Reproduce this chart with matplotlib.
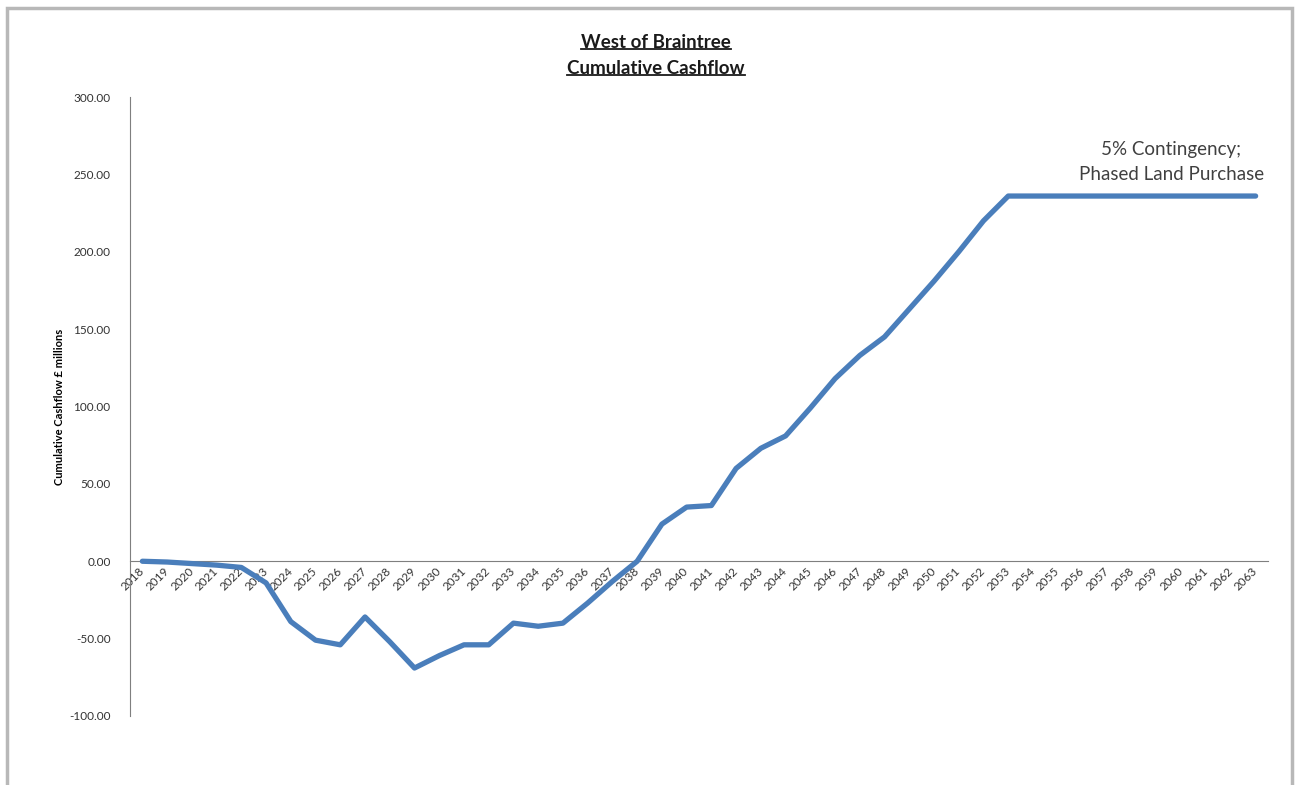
import matplotlib.pyplot as plt
from matplotlib.patches import Rectangle
from matplotlib.lines import Line2D

plt.rcParams['font.family'] = ['Lato', 'DejaVu Sans']

# data
years = [str(y) for y in range(2018, 2064)]
cashflow = [0, -0.5, -1.5, -2.5, -4, -14, -39, -51, -54, -36,
            -52, -69, -61, -54, -54, -40, -42, -40, -27, -13,
            0, 24, 35, 36, 60, 73, 81, 99, 118, 133,
            145, 163, 181, 200, 220, 236, 236, 236, 236, 236,
            236, 236, 236, 236, 236, 236]
yticks = [-100, -50, 0, 50, 100, 150, 200, 250, 300]

title_lines = ['West of Braintree', 'Cumulative Cashflow']
note = '5% Contingency;\nPhased Land Purchase'

fig = plt.figure(figsize=(12.98, 7.85), dpi=100)

# outer frame of the pasted chart
fig.patches.append(Rectangle((7 / 1298, -0.05), 1285 / 1298, 1 - 8 / 785 + 0.05,
                             transform=fig.transFigure, fill=False,
                             edgecolor='#b8b8b8', linewidth=2.5))

ax = fig.add_axes([130 / 1298, 1 - 716 / 785, 1138 / 1298, 619 / 785])
xs = list(range(len(years)))
ax.plot(xs, cashflow, color='#4a7ebb', linewidth=3.8, solid_capstyle='round',
        solid_joinstyle='round', zorder=3)

for s in ['top', 'right']:
    ax.spines[s].set_visible(False)
ax.spines['bottom'].set_position(('data', 0))
ax.spines['bottom'].set_color('#7f7f7f')
ax.spines['left'].set_color('#7f7f7f')

ax.set_xlim(-0.5, len(years) - 0.5)
ax.set_ylim(-100, 300)
ax.set_yticks(yticks)
ax.set_yticklabels([f'{v:.2f}' for v in yticks], fontsize=8.5, color='#333333')
ax.set_xticks(xs)
ax.set_xticklabels(years, fontsize=8.5, color='#333333')
for lbl in ax.get_xticklabels():
    lbl.set_rotation(45)
    lbl.set_rotation_mode('anchor')
    lbl.set_ha('right')
    lbl.set_va('center')
ax.tick_params(axis='both', length=0)
ax.tick_params(axis='x', pad=6)
ax.tick_params(axis='y', pad=14)

ax.set_ylabel('Cumulative Cashflow £ millions', fontsize=8, fontweight='bold',
              labelpad=3)

ax.text(41.6, 258, note, ha='center', va='center', fontsize=13.5,
        color='#404040', linespacing=1.55)

# underlined bold title
title_y = [1 - 42 / 785, 1 - 68 / 785]
title_objs = []
for txt, ty in zip(title_lines, title_y):
    t = fig.text(656 / 1298, ty, txt, ha='center', va='center', fontsize=13.5,
                 fontweight='bold', color='#1a1a1a')
    title_objs.append(t)

fig.canvas.draw()
renderer = fig.canvas.get_renderer()
inv = fig.transFigure.inverted()
for t in title_objs:
    bb = t.get_window_extent(renderer).transformed(inv)
    fig.add_artist(Line2D([bb.x0, bb.x1], [bb.y0 + 0.002, bb.y0 + 0.002],
                          transform=fig.transFigure, color='#1a1a1a', linewidth=1.3))

fig.savefig('out.png', dpi=100)
